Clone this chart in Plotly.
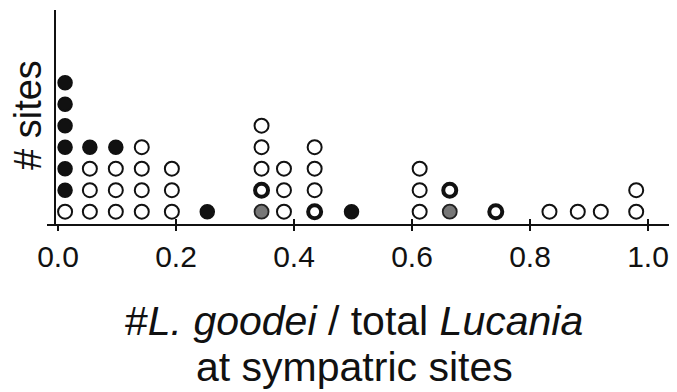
import plotly.graph_objects as go

# proportion of L. goodei at each sympatric-site column
proportions = [0.012, 0.054, 0.098, 0.142, 0.193, 0.253, 0.345, 0.383, 0.435,
               0.4975, 0.613, 0.664, 0.742, 0.833, 0.881, 0.920, 0.980]
# site symbols stacked bottom-to-top: O open, B black, G gray, T thick ring
stacks = ["OBBBBBB", "OOOB", "OOOB", "OOOO", "OOO", "B", "GTOOO", "OOO", "TOOO",
          "B", "OOO", "GT", "T", "O", "O", "O", "OO"]
tick_vals = [0.0, 0.2, 0.4, 0.6, 0.8, 1.0]
tick_text = ["0.0", "0.2", "0.4", "0.6", "0.8", "1.0"]

styles = {
    "O": dict(color="white", size=14, line=dict(color="#111", width=2)),
    "B": dict(color="#111", size=14, line=dict(color="#111", width=1.5)),
    "G": dict(color="#777", size=14, line=dict(color="#222", width=1.8)),
    "T": dict(color="white", size=13, line=dict(color="#111", width=4)),
}

fig = go.Figure()
for kind, st in styles.items():
    xs, ys = [], []
    for p, s in zip(proportions, stacks):
        for i, c in enumerate(s):
            if c == kind:
                xs.append(p)
                ys.append(i + 1)
    fig.add_trace(go.Scatter(x=xs, y=ys, mode="markers", marker=dict(symbol="circle", **st),
                             showlegend=False, hoverinfo="skip"))

OFF = 8  # page body margin
W, H = 661, 384
L, T = 47 - OFF, 10 - OFF
AX = 224 - OFF          # x-axis line (figure y)
B = H - AX
pw = W - L
ph = AX - T
ORG, SCALE = 58.0, 590.0   # page x of value 0 and pixels per unit
x0 = (47 - ORG) / SCALE
x1 = (OFF + W - ORG) / SCALE

def px_x(page_x):
    return (page_x - OFF - L) / pw

def px_y(page_y):
    return (AX - (page_y - OFF)) / ph

fig.update_layout(
    width=W, height=H,
    margin=dict(l=L, r=0, t=T, b=B),
    paper_bgcolor="white", plot_bgcolor="white",
    font=dict(family="Liberation Sans, Arial, sans-serif", color="#111"),
    xaxis=dict(range=[x0, x1], showgrid=False, zeroline=False, showline=True,
               linecolor="#111", linewidth=2, ticks="outside", ticklen=5, tickwidth=2,
               tickcolor="#111", tickvals=tick_vals, ticktext=tick_text,
               tickfont=dict(size=30, color="#111"), ticklabeloverflow="allow"),
    xaxis2=dict(range=[x0, x1], overlaying="x", anchor="y", side="bottom",
                showgrid=False, zeroline=False, showline=False, ticks="inside",
                ticklen=5, tickwidth=2, tickcolor="#111", tickvals=tick_vals[1:],
                showticklabels=False),
    yaxis=dict(range=[0.428, 0.428 + (214) / 21.5], showgrid=False, zeroline=False,
               showline=True, linecolor="#111", linewidth=2, ticks="",
               showticklabels=False, anchor="free", position=8 / pw),
    annotations=[
        dict(text="# sites", xref="paper", yref="paper", x=px_x(28),
             y=px_y(115), textangle=-90, showarrow=False,
             xanchor="center", yanchor="middle", font=dict(size=38, color="#111")),
        dict(text="#<i>L. goodei</i> / total <i>Lucania</i>", xref="paper", yref="paper",
             x=px_x(354), y=px_y(321), showarrow=False,
             xanchor="center", yanchor="middle", font=dict(size=41, color="#111")),
        dict(text="at sympatric sites", xref="paper", yref="paper",
             x=px_x(354), y=px_y(367), showarrow=False,
             xanchor="center", yanchor="middle", font=dict(size=41, color="#111")),
    ],
)
fig.add_trace(go.Scatter(x=[None], y=[None], xaxis="x2", showlegend=False))

fig.write_html("out.html")
